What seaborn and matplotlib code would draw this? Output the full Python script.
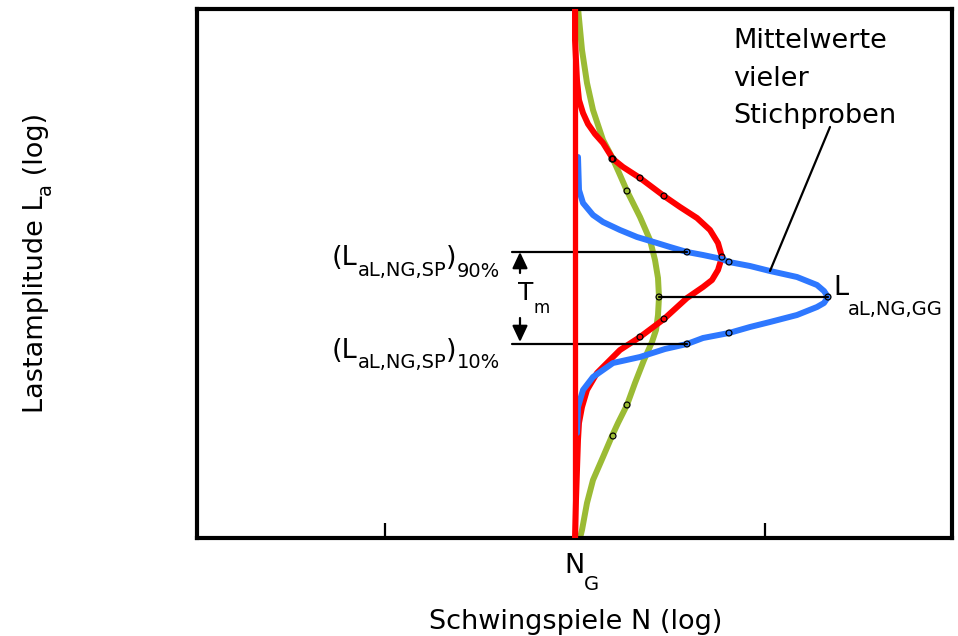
import matplotlib
matplotlib.use("Agg")
import matplotlib.pyplot as plt
import seaborn as sns

sns.set_style("white")
plt.rcParams["font.family"] = ["DejaVu Sans"]
plt.rcParams["text.color"] = "black"

W, H = 958, 636

# x: cycles relative to N_G (log scale, arbitrary units), y: load amplitude (log, arbitrary units)
ng_x = 0
x_ticks = [-190, 0, 190]
x_lim = (-378, 377)
y_lim = (0, 529)

# population distribution (green)
green_x = [3, 7, 12, 18, 28, 37, 45, 52, 65, 75, 80, 83, 84, 83, 81, 77, 69, 60, 52, 43, 37, 28, 18, 12, 7, 5]
green_y = [530, 488, 455, 428, 398, 381, 363, 347, 321, 298, 278, 260, 241, 223, 208, 196, 178, 155, 133, 115,
           102, 81, 58, 35, 8, 0]
green_mx = [37, 52, 84, 52, 38]
green_my = [379, 347, 241, 133, 102]

# single sample distribution (red)
red_x = [0, 0, 1, 2, 4, 8, 13, 20, 28, 38, 48, 65, 89, 105, 122, 135, 143, 147, 143, 137, 128, 112, 89, 65, 45,
         35, 22, 12, 7, 4, 3, 2, 1, 0]
red_y = [530, 498, 478, 458, 438, 425, 414, 404, 395, 379, 371, 360, 342, 331, 320, 308, 295, 281, 268, 258, 251,
         240, 219, 201, 188, 178, 165, 148, 131, 115, 98, 68, 38, 0]
red_mx = [38, 65, 89, 147, 89, 65]
red_my = [379, 360, 342, 281, 219, 201]

# distribution of the means of many samples (blue)
blue_x = [3, 4, 8, 18, 28, 45, 62, 82, 95, 112, 128, 147, 154, 175, 195, 222, 242, 249, 253, 249, 242, 222, 195,
          175, 154, 128, 112, 90, 65, 38, 18, 8, 3, 2]
blue_y = [381, 348, 335, 323, 316, 308, 301, 295, 291, 286, 283, 279, 276, 272, 267, 261, 253, 247, 241, 235,
          231, 223, 216, 211, 205, 200, 194, 189, 181, 175, 161, 148, 131, 105]
blue_mx = [112, 154, 253, 154, 112]
blue_my = [286, 276, 241, 205, 194]

# reference levels
level_90 = 286
level_10 = 194
level_gg = 241
label_x = -63
tm_x = -55
leader_x = [195, 255]
leader_y = [267, 411]

green_c = "#9BBB34"
red_c = "#FF0000"
blue_c = "#2E78FF"

fig = plt.figure(figsize=(W / 100, H / 100), dpi=100)
ax = fig.add_axes([197 / W, 1 - 538 / H, 755 / W, 529 / H])

sns.lineplot(x=green_x, y=green_y, sort=False, estimator=None, color=green_c, lw=4.3, ax=ax, zorder=2)
sns.lineplot(x=red_x, y=red_y, sort=False, estimator=None, color=red_c, lw=4.3, ax=ax, zorder=3)
sns.lineplot(x=blue_x, y=blue_y, sort=False, estimator=None, color=blue_c, lw=4.3, ax=ax, zorder=4)

# horizontal reference lines
sns.lineplot(x=[label_x, blue_mx[0]], y=[level_90, level_90], color="black", lw=1.6, ax=ax, zorder=5)
sns.lineplot(x=[label_x, blue_mx[-1]], y=[level_10, level_10], color="black", lw=1.6, ax=ax, zorder=5)
sns.lineplot(x=[green_mx[2], blue_mx[2]], y=[level_gg, level_gg], color="black", lw=1.6, ax=ax, zorder=5)
sns.lineplot(x=leader_x, y=leader_y, sort=False, estimator=None, color="black", lw=1.6, ax=ax, zorder=5)

# vertical line at N_G
ax.axvline(ng_x, color=red_c, lw=3.8, zorder=6)

# quantile markers
for mx, my in [(green_mx, green_my), (red_mx, red_my), (blue_mx, blue_my)]:
    ax.scatter(mx, my, s=18, facecolors="none", edgecolors="black", linewidths=0.9, zorder=7)

# T_m arrows
arrow = dict(arrowstyle="-|>,head_length=0.7,head_width=0.33", mutation_scale=14, color="black", lw=1.6,
             shrinkA=0, shrinkB=0)
ax.annotate("", xy=(tm_x, level_90), xytext=(tm_x, 265), arrowprops=arrow, annotation_clip=False)
ax.annotate("", xy=(tm_x, level_10 + 2), xytext=(tm_x, 220), arrowprops=arrow, annotation_clip=False)

ax.set_xlim(*x_lim)
ax.set_ylim(*y_lim)
ax.set_xticks(x_ticks)
ax.set_yticks([])
ax.set_xticklabels([])
ax.tick_params(axis="x", direction="in", length=11, width=1.6, color="black", bottom=True, top=False)
for sp in ax.spines.values():
    sp.set_visible(True)
    sp.set_color("black")
    sp.set_linewidth(3)

BIG = 19.5
SUB = 14


def at(x, y):
    return x / W, 1 - y / H


def chain(x, y, pieces, vertical=False):
    r = fig.canvas.get_renderer()
    for s, size, drop in pieces:
        if vertical:
            t = fig.text(*at(x + drop, y), s, fontsize=size, rotation=90, rotation_mode="anchor",
                         ha="left", va="baseline")
            y -= t.get_window_extent(r).height
        else:
            t = fig.text(*at(x, y + drop), s, fontsize=size, ha="left", va="baseline")
            x += t.get_window_extent(r).width


chain(332, 265, [("(L", BIG, 0), ("aL,NG,SP", SUB, 11), (")", BIG, 0), ("90%", SUB, 12)])
chain(332, 358, [("(L", BIG, 0), ("aL,NG,SP", SUB, 10), (")", BIG, 0), ("10%", SUB, 10)])
chain(518, 300, [("T", 18, 0), ("m", 12, 13)])
chain(833, 295, [("L", BIG, 0), ("aL,NG,GG", SUB, 20)])
chain(564, 573, [("N", BIG, 0), ("G", SUB, 17)])
chain(43, 413, [("Lastamplitude L", BIG, 0), ("a", SUB, 8), (" (log)", BIG, 0)], vertical=True)

fig.text(*at(576, 629), "Schwingspiele N (log)", fontsize=BIG, ha="center", va="baseline")
for line, base in [("Mittelwerte", 48), ("vieler", 86), ("Stichproben", 123)]:
    fig.text(*at(733, base), line, fontsize=BIG, ha="left", va="baseline")

fig.savefig("out.png", dpi=100, facecolor="white")
